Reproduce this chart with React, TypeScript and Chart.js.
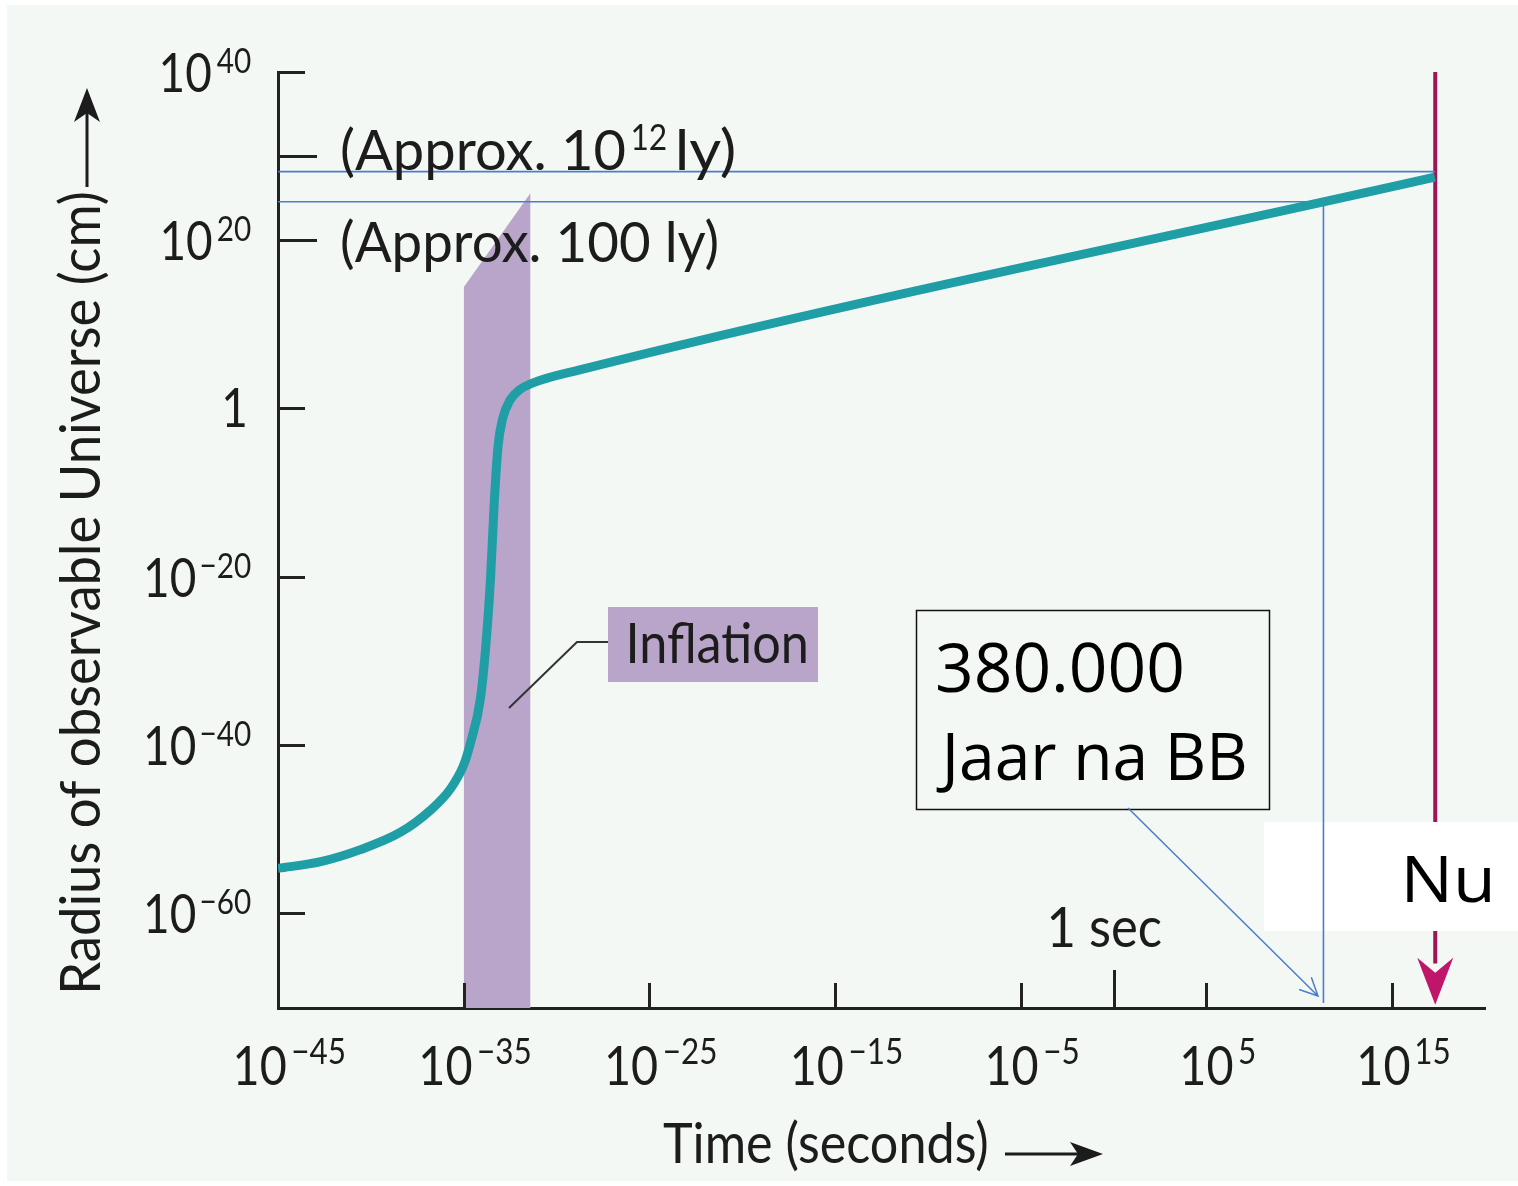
import React, { useEffect, useRef } from 'react';
import { Chart, registerables } from 'chart.js';

Chart.register(...registerables);

// ---- data (exponents: log10 of time in s, log10 of radius in cm) ----
const logTime = [-45, -42.7, -40.6, -38.4, -36.8, -35.7, -35.0, -34.6, -34.1, -33.8, -33.55, -33.35, -33.15, -32.9, -32.5, -32.0, -31.3, -28.7, 17.3];
const logRadius = [-54.7, -53.9, -52.5, -50.4, -47.8, -45.2, -42.4, -39.5, -34.5, -28, -20, -11, -4.5, -1.2, 1.0, 2.2, 3.0, 4.6, 27.5];

const inflationTime = [-35, -31.4];
const inflationTop = [14.4, 25.6];

const xTickValues = [-45, -35, -25, -15, -5, 5, 15];
const xTickMarks = [-35, -25, -15, -5, 5, 15];
const oneSecondTick = 0;
const yTickValues = [40, 20, 0, -20, -40, -60];
const yLeaderTicks = [30, 20];

const nowTime = 17.32;
const nowRadius = 28.15;
const cmbTime = 11.3;
const cmbRadius = 24.58;
const nowArrowTip = -70.9;

const X_MIN = -45, X_MAX = 20, Y_MIN = -71.3, Y_MAX = 40;

const W = 1518, H = 1186;

const SANS = 'Lato, "Noto Sans", "DejaVu Sans", sans-serif';
const BOXF = '"Open Sans", "Noto Sans", sans-serif';
const INK = '#1c1c1c';
const PURPLE = '#b9a4ca';
const TEAL = '#1f9ea6';
const BLUE = '#4a7ec9';
const MAGENTA = '#a01456';

function measure(ctx: CanvasRenderingContext2D, text: string, font: string) {
  ctx.font = font;
  const m = ctx.measureText(text);
  return { l: m.actualBoundingBoxLeft, r: m.actualBoundingBoxRight, w: m.actualBoundingBoxLeft + m.actualBoundingBoxRight };
}

function drawAt(ctx: CanvasRenderingContext2D, text: string, font: string, inkLeft: number, baseline: number, sx: number) {
  const m = measure(ctx, text, font);
  ctx.save();
  ctx.translate(inkLeft + m.l * sx, baseline);
  ctx.scale(sx, 1);
  ctx.textAlign = 'left';
  ctx.textBaseline = 'alphabetic';
  ctx.fillText(text, 0, 0);
  ctx.restore();
  return m.w * sx;
}

function fit(ctx: CanvasRenderingContext2D, text: string, font: string, x0: number, x1: number, baseline: number) {
  const m = measure(ctx, text, font);
  const sx = (x1 - x0) / m.w;
  drawAt(ctx, text, font, x0, baseline, sx);
  return sx;
}

function expText(v: number) {
  return v < 0 ? '\u2212' + Math.abs(v) : String(v);
}

function arrowHead(ctx: CanvasRenderingContext2D, tipX: number, tipY: number, dx: number, dy: number, len: number, half: number, notch: number) {
  const nx = -dy, ny = dx;
  ctx.beginPath();
  ctx.moveTo(tipX, tipY);
  ctx.lineTo(tipX - dx * len + nx * half, tipY - dy * len + ny * half);
  ctx.lineTo(tipX - dx * (len - notch), tipY - dy * (len - notch));
  ctx.lineTo(tipX - dx * len - nx * half, tipY - dy * len - ny * half);
  ctx.closePath();
  ctx.fill();
}

const decorPlugin = {
  id: 'decor',
  beforeDraw(chart: any) {
    const ctx = chart.ctx as CanvasRenderingContext2D;
    ctx.save();
    ctx.fillStyle = '#ffffff';
    ctx.fillRect(0, 0, W, H);
    ctx.fillStyle = '#f4f8f5';
    ctx.fillRect(7, 5, W - 7, H - 10);
    ctx.restore();
  },
  beforeDatasetDraw(chart: any, args: any) {
    if (args.index !== 2) return;
    const ctx = chart.ctx as CanvasRenderingContext2D;
    ctx.save();
    ctx.fillStyle = '#ffffff';
    ctx.fillRect(1264, 822, W - 1264, 109);
    ctx.restore();
  },
  afterDatasetsDraw(chart: any) {
    const ctx = chart.ctx as CanvasRenderingContext2D;
    const x = chart.scales.x, y = chart.scales.y;
    const area = chart.chartArea;
    ctx.save();
    ctx.strokeStyle = '#222';
    ctx.lineWidth = 3;
    yTickValues.forEach((v) => {
      const py = Math.round(y.getPixelForValue(v)) + 0.5;
      const len = yLeaderTicks.includes(v) ? 39 : 27;
      ctx.beginPath();
      ctx.moveTo(area.left, py);
      ctx.lineTo(area.left + len, py);
      ctx.stroke();
    });
    yLeaderTicks.forEach((v) => {
      const py = Math.round(y.getPixelForValue(v)) + 0.5;
      ctx.beginPath();
      ctx.moveTo(area.left, py);
      ctx.lineTo(area.left + 39, py);
      ctx.stroke();
    });
    xTickMarks.forEach((v) => {
      const px = Math.round(x.getPixelForValue(v)) + 0.5;
      ctx.beginPath();
      ctx.moveTo(px, area.bottom);
      ctx.lineTo(px, area.bottom - 25);
      ctx.stroke();
    });
    {
      const px = Math.round(x.getPixelForValue(oneSecondTick)) + 0.5;
      ctx.beginPath();
      ctx.moveTo(px, area.bottom);
      ctx.lineTo(px, area.bottom - 38);
      ctx.stroke();
    }
    ctx.fillStyle = '#c0166a';
    arrowHead(ctx, x.getPixelForValue(nowTime), y.getPixelForValue(nowArrowTip), 0, 1, 47, 18, 15);
    ctx.restore();
  },
  afterDraw(chart: any) {
    const ctx = chart.ctx as CanvasRenderingContext2D;
    const x = chart.scales.x, y = chart.scales.y;
    const area = chart.chartArea;
    ctx.save();
    ctx.fillStyle = INK;
    const sx = 0.85;
    const mainY = `54px ${SANS}`;
    const supY = `35px ${SANS}`;
    yTickValues.forEach((v) => {
      const py = y.getPixelForValue(v);
      const right = area.left - 27;
      if (v === 0) {
        const w = measure(ctx, '1', mainY).w * sx;
        drawAt(ctx, '1', mainY, right - 6 - w, py + 19, sx);
        return;
      }
      const e = expText(v);
      const sw = measure(ctx, e, supY).w * sx;
      const supLeft = right - sw;
      drawAt(ctx, e, supY, supLeft, py + 1, sx);
      const mw = measure(ctx, '10', mainY).w * sx;
      drawAt(ctx, '10', mainY, supLeft - 6 - mw, py + 20, sx);
    });
    const mainX = `55px ${SANS}`;
    const supX = `37px ${SANS}`;
    xTickValues.forEach((v) => {
      const px = x.getPixelForValue(v);
      const e = expText(v);
      const mw = measure(ctx, '10', mainX).w * sx;
      const sw = measure(ctx, e, supX).w * sx;
      const total = mw + 7 + sw;
      const left = px + 12 - total / 2;
      drawAt(ctx, '10', mainX, left, area.bottom + 77, sx);
      drawAt(ctx, e, supX, left + mw + 7, area.bottom + 56, sx);
    });

    // approx labels
    const f58 = `57px ${SANS}`;
    const s58 = `37px ${SANS}`;
    fit(ctx, '(Approx. 100 ly)', f58, 342, 717, 262);
    fit(ctx, '(Approx. 10', f58, 342, 625, 170);
    fit(ctx, '12', s58, 633, 666, 150);
    fit(ctx, 'ly)', f58, 679, 734, 170);

    fit(ctx, '1 sec', `57px ${SANS}`, 1050, 1161, 947);

    // Inflation box + connector
    ctx.fillStyle = PURPLE;
    ctx.fillRect(608, 607, 210, 75);
    ctx.strokeStyle = '#333';
    ctx.lineWidth = 2;
    ctx.beginPath();
    ctx.moveTo(608, 642);
    ctx.lineTo(577, 642);
    ctx.lineTo(509, 708);
    ctx.stroke();
    ctx.fillStyle = INK;
    fit(ctx, 'Inflation', `56px ${SANS}`, 630, 806, 663);

    // axis titles
    fit(ctx, 'Time (seconds)', `56px ${SANS}`, 663, 987, 1163);
    ctx.strokeStyle = INK;
    ctx.lineWidth = 3;
    ctx.beginPath();
    ctx.moveTo(1005, 1154);
    ctx.lineTo(1085, 1154);
    ctx.stroke();
    arrowHead(ctx, 1103, 1154, 1, 0, 33, 12, 8);

    ctx.save();
    ctx.translate(100, 990);
    ctx.rotate(-Math.PI / 2);
    fit(ctx, 'Radius of observable Universe (cm)', `56px ${SANS}`, 0, 797, 0);
    ctx.restore();
    ctx.beginPath();
    ctx.moveTo(87, 187);
    ctx.lineTo(87, 105);
    ctx.stroke();
    arrowHead(ctx, 87, 88, 0, -1, 34, 13, 9);

    // 380.000 box
    ctx.fillStyle = '#f4f8f5';
    ctx.fillRect(916, 610, 353, 199);
    ctx.strokeStyle = '#111';
    ctx.lineWidth = 1.5;
    ctx.strokeRect(916.5, 610.5, 353, 199);
    ctx.fillStyle = '#000';
    fit(ctx, '380.000', `68px ${BOXF}`, 938, 1182, 692);
    fit(ctx, 'Jaar na BB', `66px ${BOXF}`, 936, 1245, 780);

    // blue pointer arrow
    ctx.strokeStyle = BLUE;
    ctx.lineWidth = 1.5;
    const ax0 = 1128, ay0 = 808, ax1 = 1318, ay1 = 996;
    ctx.beginPath();
    ctx.moveTo(ax0, ay0);
    ctx.lineTo(ax1, ay1);
    const ang = Math.atan2(ay1 - ay0, ax1 - ax0);
    const hl = 20, ha = 0.45;
    ctx.moveTo(ax1 - hl * Math.cos(ang - ha), ay1 - hl * Math.sin(ang - ha));
    ctx.lineTo(ax1, ay1);
    ctx.lineTo(ax1 - hl * Math.cos(ang + ha), ay1 - hl * Math.sin(ang + ha));
    ctx.stroke();

    ctx.fillStyle = '#000';
    fit(ctx, 'Nu', `64px ${BOXF}`, 1407, 1490, 902);
    ctx.restore();
  },
};

export default function App() {
  const ref = useRef<HTMLCanvasElement>(null);
  useEffect(() => {
    const canvas = ref.current;
    if (!canvas) return;
    const curve = logTime.map((t, i) => ({ x: t, y: logRadius[i] }));
    const band = inflationTime.map((t, i) => ({ x: t, y: inflationTop[i] }));
    const chart = new Chart(canvas, {
      type: 'line',
      data: {
        datasets: [
          {
            label: 'Radius',
            data: curve,
            borderColor: TEAL,
            borderWidth: 9,
            cubicInterpolationMode: 'monotone',
            pointRadius: 0,
            fill: false,
            order: 1,
            borderJoinStyle: 'round',
          },
          {
            label: 'Inflation',
            data: band,
            borderColor: 'rgba(0,0,0,0)',
            borderWidth: 0,
            backgroundColor: PURPLE,
            fill: 'start',
            pointRadius: 0,
            order: 10,
          },
          {
            label: 'CMB',
            data: [
              { x: X_MIN, y: cmbRadius },
              { x: cmbTime, y: cmbRadius },
              { x: cmbTime, y: -70.7 },
            ],
            borderColor: BLUE,
            borderWidth: 1.6,
            pointRadius: 0,
            fill: false,
            order: 5,
          },
          {
            label: 'NowLevel',
            data: [
              { x: X_MIN, y: nowRadius },
              { x: nowTime, y: nowRadius },
            ],
            borderColor: BLUE,
            borderWidth: 1.6,
            pointRadius: 0,
            fill: false,
            order: 4,
          },
          {
            label: 'Nu',
            data: [
              { x: nowTime, y: Y_MAX },
              { x: nowTime, y: -66 },
            ],
            borderColor: MAGENTA,
            borderWidth: 4,
            pointRadius: 0,
            fill: false,
            order: 8,
          },
        ],
      },
      options: {
        animation: false,
        responsive: false,
        maintainAspectRatio: false,
        events: [],
        layout: { padding: { left: 278, top: 72, right: W - 1485, bottom: H - 1008 } },
        plugins: { legend: { display: false }, tooltip: { enabled: false } },
        scales: {
          x: {
            type: 'linear',
            min: X_MIN,
            max: X_MAX,
            grid: { display: false, drawTicks: false },
            ticks: { display: false },
            border: { display: true, color: '#222', width: 3 },
          },
          y: {
            type: 'linear',
            min: Y_MIN,
            max: Y_MAX,
            grid: { display: false, drawTicks: false },
            ticks: { display: false },
            border: { display: true, color: '#222', width: 3 },
          },
        },
      },
      plugins: [decorPlugin],
    } as any);
    return () => chart.destroy();
  }, []);
  return (
    <div style={{ position: 'absolute', left: 0, top: 0, width: W, height: H }}>
      <canvas ref={ref} width={W} height={H} style={{ display: 'block', width: W, height: H }} />
    </div>
  );
}
